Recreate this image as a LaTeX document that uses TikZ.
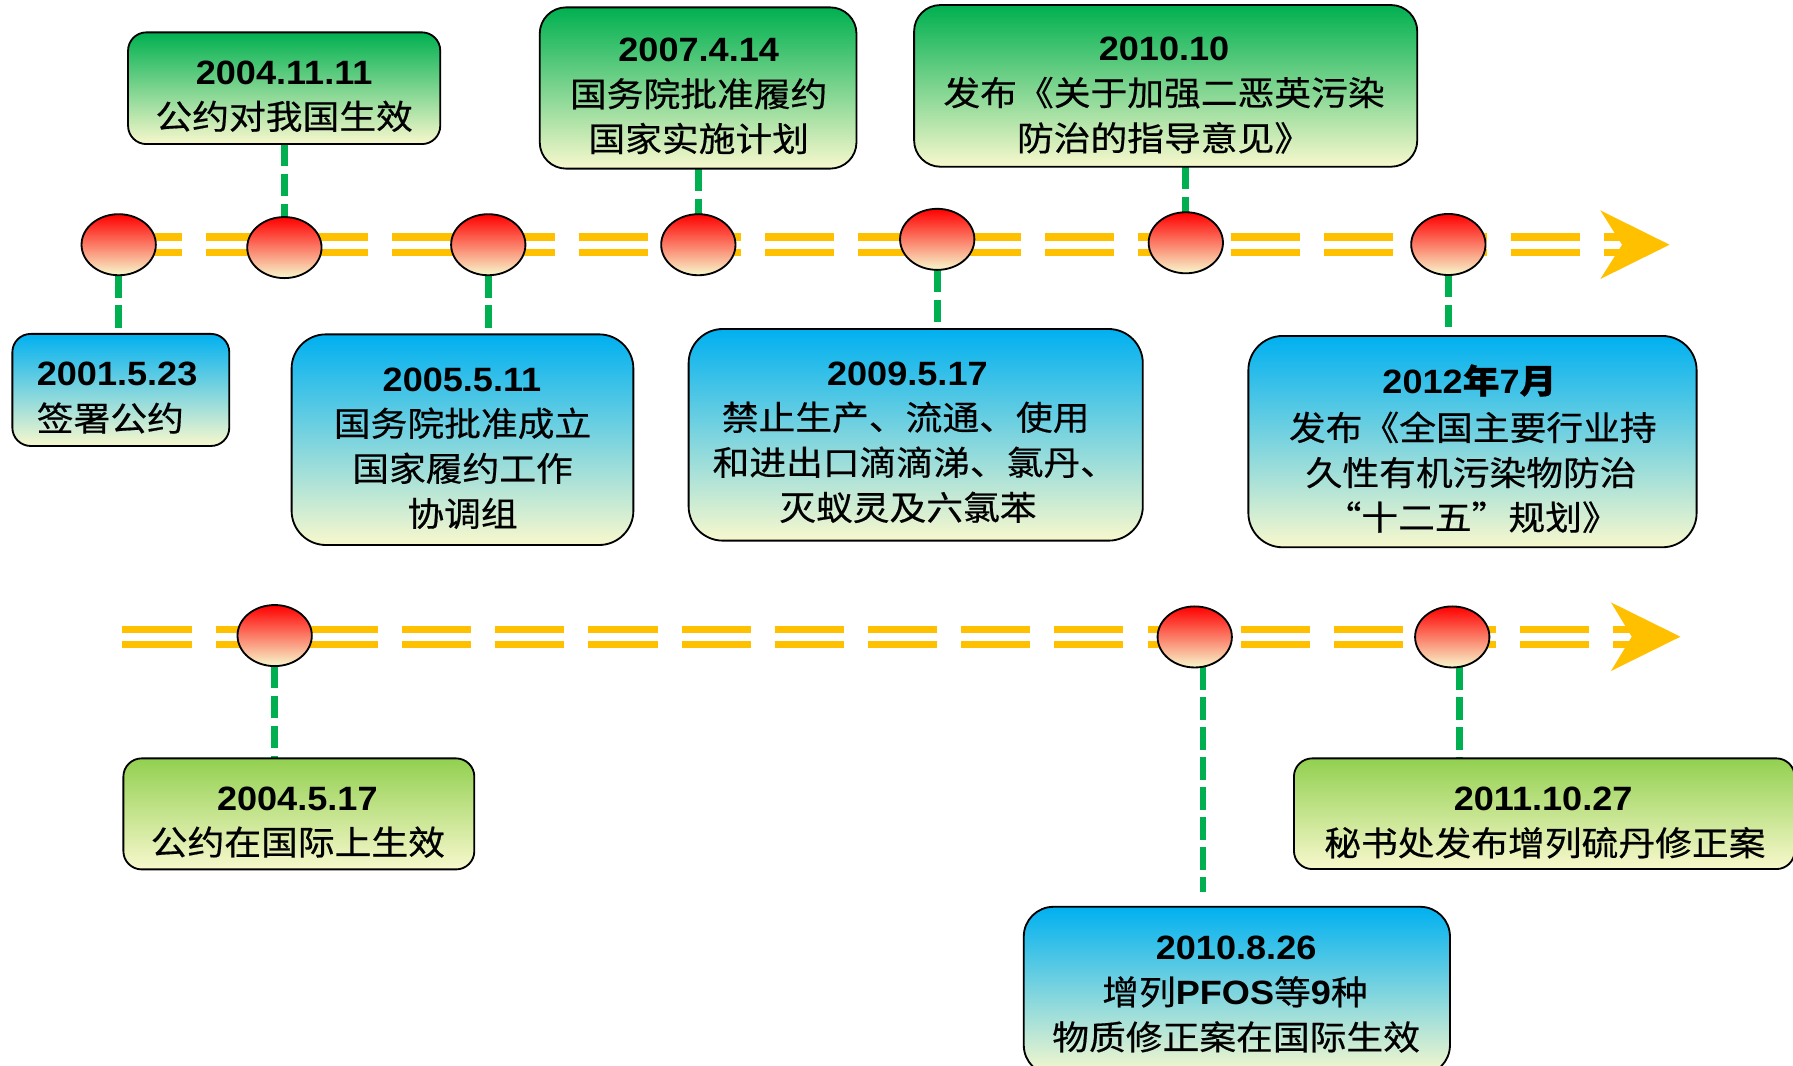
\documentclass[tikz,border=0pt]{standalone}
\usepackage{fontspec}
\setmainfont{Liberation Sans}
\newfontfamily\cjk{Noto Sans CJK SC}[FakeStretch=1.09,FakeBold=0.5]
\newfontfamily\lat{Liberation Sans}[FakeStretch=1.07]
\usetikzlibrary{shapes.geometric}
\definecolor{railyellow}{RGB}{255,192,0}
\definecolor{conngreen}{RGB}{0,176,80}
\definecolor{topgreen}{RGB}{0,176,80}
\definecolor{topblue}{RGB}{0,176,240}
\definecolor{toplime}{RGB}{146,208,80}
\definecolor{pale}{RGB}{248,248,205}
\definecolor{dotred}{RGB}{255,0,0}
\pgfdeclarelayer{bg}
\pgfdeclarelayer{paper}
\pgfsetlayers{paper,bg,main}
\begin{document}
\begin{tikzpicture}[x=1pt,y=-1pt,
 box/.style={draw=black,line width=1.6pt,rectangle,inner sep=0pt,outer sep=0pt},
 gbox/.style={box,top color=topgreen,bottom color=pale},
 bbox/.style={box,top color=topblue,bottom color=pale},
 lbox/.style={box,top color=toplime,bottom color=pale},
 dot/.style={ellipse,draw=black,line width=1.6pt,minimum width=65pt,minimum height=53.4pt,inner sep=0pt,outer sep=0pt,top color=dotred,bottom color=pale},
 conn/.style={draw=conngreen,line width=6pt,dash pattern=on 19.5pt off 6.7pt},
 rail/.style={draw=railyellow,line width=6.4pt,dash pattern=on 60.5pt off 21pt},
 dl/.style={anchor=base,inner sep=0pt,font=\lat\bfseries\fontsize{29.5pt}{35pt}\selectfont},
 cl/.style={anchor=base,inner sep=0pt,font=\cjk\fontsize{29.5pt}{35pt}\selectfont},
]
\useasboundingbox (0,0) rectangle (1568,932);
\begin{pgfonlayer}{paper}
\fill[white] (0,0) rectangle (1568,932);
\end{pgfonlayer}

% ---- timeline dots
\node[dot] (E1) at (103.8,214) {};
\node[dot] (E2) at (248.7,216.5) {};
\node[dot] (E3) at (427,214) {};
\node[dot] (E4) at (610.7,214) {};
\node[dot] (E5) at (819.6,209.3) {};
\node[dot] (E6) at (1037,212.3) {};
\node[dot] (E7) at (1266.6,213.8) {};
\node[dot] (F1) at (240.2,555.8) {};
\node[dot] (F2) at (1044.8,557) {};
\node[dot] (F3) at (1270,557) {};

% ---- boxes
\node[gbox,minimum width=273pt,minimum height=97.7pt,rounded corners=16pt] (B1) at (248.5,77.15) {};
\node[gbox,minimum width=277pt,minimum height=141pt,rounded corners=23pt] (B2) at (610.5,76.95) {};
\node[gbox,minimum width=440pt,minimum height=141.4pt,rounded corners=23pt] (B3) at (1019.4,75.1) {};
\node[bbox,minimum width=189.7pt,minimum height=98pt,rounded corners=16pt] (B4) at (105.65,341) {};
\node[bbox,minimum width=298.9pt,minimum height=184.2pt,rounded corners=30pt] (B5) at (404.45,384.5) {};
\node[bbox,minimum width=397.2pt,minimum height=185.1pt,rounded corners=30pt] (B6) at (800.8,380.25) {};
\node[bbox,minimum width=392pt,minimum height=184.8pt,rounded corners=30pt] (B7) at (1287.7,386.2) {};
\node[lbox,minimum width=306.9pt,minimum height=97.1pt,rounded corners=16pt] (B8) at (261.35,711.75) {};
\node[lbox,minimum width=437.9pt,minimum height=96.8pt,rounded corners=16pt] (B9) at (1350.5,711.6) {};
\node[bbox,minimum width=372.7pt,minimum height=147pt,rounded corners=26pt] (B10) at (1081.65,866.5) {};

% ---- rails, connectors (behind)
\coordinate (r1a) at (98.5,214);
\coordinate (r1b) at (1430,214);
\coordinate (r2a) at (107,557);
\coordinate (r2b) at (1440,557);
\coordinate (f2end) at (1052,780);
\begin{pgfonlayer}{bg}
\draw[rail] ([yshift=6.8pt]r1a) -- ([yshift=6.8pt]r1b);
\draw[rail] ([yshift=-6.8pt]r1a) -- ([yshift=-6.8pt]r1b);
\draw[rail] ([yshift=6.8pt]r2a) -- ([yshift=6.8pt]r2b);
\draw[rail] ([yshift=-6.8pt]r2a) -- ([yshift=-6.8pt]r2b);
\draw[conn] (E1.south) -- (E1.south |- B4.north);
\draw[conn] (E2.north |- B1.south) -- (E2.north);
\draw[conn] (E3.south) -- (E3.south |- B5.north);
\draw[conn] (E4.north |- B2.south) -- (E4.north);
\draw[conn] (E5.south) -- (E5.south |- B6.north);
\draw[conn] (E6.north |- B3.south) -- (E6.north);
\draw[conn] (E7.south) -- (E7.south |- B7.north);
\draw[conn] (F1.south) -- (F1.south |- B8.north);
\draw[conn] (f2end |- F2.south) -- (f2end);
\draw[conn] ([xshift=6pt]F3.south) -- ([xshift=6pt]F3.south |- B9.north);
\end{pgfonlayer}

% ---- arrow heads
\coordinate (a1) at (1460,214);
\coordinate (a2) at (1469.5,556.8);
\fill[railyellow] (a1) -- ++(-60.5,-30) -- ++(19,30) -- ++(-19,30) -- cycle;
\fill[railyellow] (a2) -- ++(-60.7,-30) -- ++(18.2,30) -- ++(-18.2,30) -- cycle;

% ---- texts
\node[dl] (t1a) at (248.5,73.5) {2004.11.11};
\node[cl] (t1b) at (248.5,112.9) {公约对我国生效};

\node[dl] (t2a) at (611,54) {2007.4.14};
\node[cl] (t2b) at (611,93.2) {国务院批准履约};
\node[cl] (t2c) at (611,132.4) {国家实施计划};

\node[dl] (t3a) at (1018,52.5) {2010.10};
\node[cl] (t3b) at (1018,92.2) {发布《关于加强二恶英污染};
\node[cl] (t3c) at (1018,131.8) {防治的指导意见》};

\node[dl,anchor=base west] (t4a) at (32,337.3) {2001.5.23};
\node[cl,anchor=base west] (t4b) at (32,376.9) {签署公约};

\node[dl] (t5a) at (404,342) {2005.5.11};
\node[cl] (t5b) at (404.5,381.4) {国务院批准成立};
\node[cl] (t5c) at (404.5,420.8) {国家履约工作};
\node[cl] (t5d) at (404.5,460.2) {协调组};

\node[dl] (t6a) at (793.5,336.7) {2009.5.17};
\node[cl] (t6b) at (792,376.1) {禁止生产、流通、使用};
\node[cl] (t6c) at (800,415.5) {和进出口滴滴涕、氯丹、};
\node[cl] (t6d) at (794,454.9) {灭蚁灵及六氯苯};

\node[dl] (t7a) at (1285,344) {2012{\cjk\bfseries 年}7{\cjk\bfseries 月}};
\node[cl] (t7b) at (1288,385) {发布《全国主要行业持};
\node[cl] (t7c) at (1286.5,424.5) {久性有机污染物防治};
\node[cl] (t7d) at (1287,463.5) {“十二五”规划》};

\node[dl] (t8a) at (260,708.4) {2004.5.17};
\node[cl] (t8b) at (260.5,747.6) {公约在国际上生效};

\node[dl] (t9a) at (1349.5,708.4) {2011.10.27};
\node[cl] (t9b) at (1351,748.2) {秘书处发布增列硫丹修正案};

\node[dl] (t10a) at (1081,839.5) {2010.8.26};
\node[cl] (t10b) at (1080,878.6) {增列{\lat\bfseries PFOS}等{\lat\bfseries 9}种};
\node[cl] (t10c) at (1081,918) {物质修正案在国际生效};
\end{tikzpicture}
\end{document}
